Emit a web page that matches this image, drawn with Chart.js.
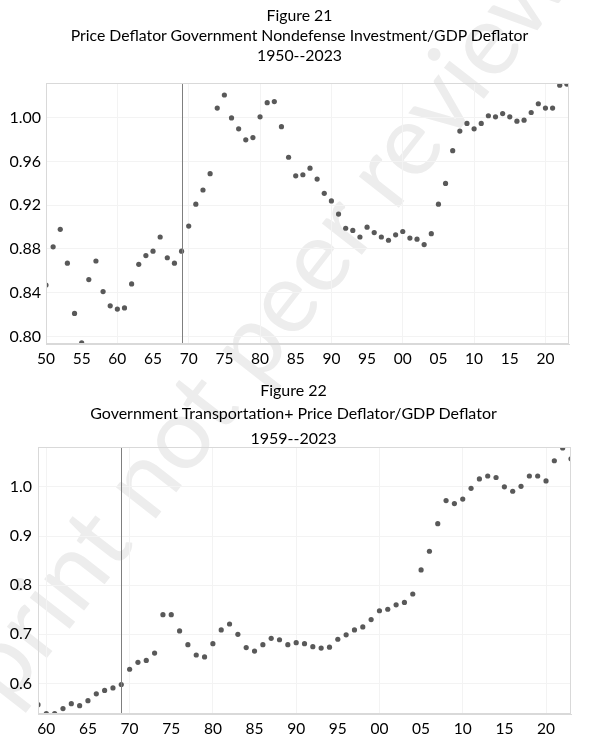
<!DOCTYPE html>
<html>
<head>
<meta charset="utf-8">
<script src="https://cdn.jsdelivr.net/npm/chart.js@4.4.1/dist/chart.umd.min.js"></script>
<style>
  html, body { margin: 0; padding: 0; background: #fff; }
  #page { position: relative; width: 599px; height: 746px; overflow: hidden; font-family: Lato, "Open Sans", sans-serif; color: #000; }
  .t { position: absolute; left: 0; width: 599px; text-align: center; font-size: 15.8px; line-height: 20px; white-space: nowrap; }
  .box { position: absolute; left: 0; width: 599px; }
  #wm { position: absolute; left: -160px; top: 762px; font-size: 100px; color: #ededed; white-space: nowrap; transform-origin: 0 0; transform: rotate(-52deg); font-family: Lato, sans-serif; }
</style>
</head>
<body>
<div id="page">
  <div id="wm">Preprint not peer reviewed</div>
  <div class="box" style="top:0;height:372px;"><canvas id="c1"></canvas></div>
  <div class="box" style="top:372px;height:374px;"><canvas id="c2"></canvas></div>
  <div class="t" style="top:5px;">Figure 21</div>
  <div class="t" style="top:25px;">Price Deflator Government Nondefense Investment/GDP Deflator</div>
  <div class="t" style="top:45px;">1950--2023</div>
  <div class="t" style="top:380px;left:-6px;font-size:16px;">Figure 22</div>
  <div class="t" style="top:403px;left:-6px;font-size:16px;">Government Transportation+ Price Deflator/GDP Deflator</div>
  <div class="t" style="top:428px;left:-6px;font-size:16px;">1959--2023</div>
</div>
<script>
// ---------- Figure 21 data ----------
const years1 = [1950,1951,1952,1953,1954,1955,1956,1957,1958,1959,1960,1961,1962,1963,1964,1965,1966,1967,1968,1969,
  1970,1971,1972,1973,1974,1975,1976,1977,1978,1979,1980,1981,1982,1983,1984,1985,1986,1987,1988,1989,
  1990,1991,1992,1993,1994,1995,1996,1997,1998,1999,2000,2001,2002,2003,2004,2005,2006,2007,2008,2009,
  2010,2011,2012,2013,2014,2015,2016,2017,2018,2019,2020,2021,2022,2023];
const values1 = [0.847,0.882,0.898,0.867,0.821,0.794,0.852,0.869,0.841,0.828,0.825,0.826,0.848,0.866,0.874,0.878,0.891,0.872,0.867,0.878,
  0.901,0.921,0.934,0.949,1.009,1.021,1.000,0.990,0.980,0.982,1.001,1.014,1.015,0.992,0.964,0.947,0.948,0.954,0.944,0.931,
  0.924,0.912,0.899,0.897,0.891,0.900,0.895,0.891,0.888,0.893,0.896,0.890,0.889,0.884,0.894,0.921,0.940,0.970,0.988,0.995,
  0.990,0.995,1.002,1.001,1.004,1.001,0.997,0.998,1.005,1.013,1.009,1.009,1.030,1.031];
const xTicks1 = [1950,1955,1960,1965,1970,1975,1980,1985,1990,1995,2000,2005,2010,2015,2020];
const yTicks1 = [0.80,0.84,0.88,0.92,0.96,1.00];
const xRange1 = [1950, 2023.3];
const yRange1 = [0.793, 1.032];

// ---------- Figure 22 data ----------
const years2 = [1959,1960,1961,1962,1963,1964,1965,1966,1967,1968,1969,
  1970,1971,1972,1973,1974,1975,1976,1977,1978,1979,1980,1981,1982,1983,1984,1985,1986,1987,1988,1989,
  1990,1991,1992,1993,1994,1995,1996,1997,1998,1999,2000,2001,2002,2003,2004,2005,2006,2007,2008,2009,
  2010,2011,2012,2013,2014,2015,2016,2017,2018,2019,2020,2021,2022,2023];
const values2 = [0.557,0.539,0.539,0.549,0.559,0.555,0.565,0.579,0.586,0.591,0.598,
  0.629,0.643,0.647,0.662,0.740,0.740,0.707,0.679,0.658,0.654,0.681,0.709,0.721,0.700,0.673,0.666,0.679,0.692,0.689,0.679,
  0.683,0.681,0.675,0.672,0.674,0.690,0.699,0.709,0.715,0.730,0.748,0.751,0.760,0.765,0.782,0.831,0.869,0.925,0.972,0.966,
  0.975,0.997,1.016,1.022,1.019,1.000,0.991,1.001,1.022,1.022,1.012,1.053,1.079,1.057];
const xTicks2 = [1960,1965,1970,1975,1980,1985,1990,1995,2000,2005,2010,2015,2020];
const yTicks2 = [0.6,0.7,0.8,0.9,1.0];
const xRange2 = [1959, 2023];
const yRange2 = [0.538, 1.081];

const markerYear = 1969;

const FONT = 'Lato, "Open Sans", sans-serif';

const markerPlugin = {
  id: 'marker',
  afterDatasetsDraw(chart, args, opts) {
    const {ctx, chartArea, scales} = chart;
    const x = Math.round(scales.x.getPixelForValue(opts.year)) + 0.5;
    ctx.save();
    ctx.strokeStyle = '#7f7f7f';
    ctx.lineWidth = 1;
    ctx.beginPath();
    ctx.moveTo(x, chartArea.top);
    ctx.lineTo(x, chartArea.bottom);
    ctx.stroke();
    ctx.restore();
  }
};

function makeChart(id, years, values, xTicks, yTicks, xRange, yRange, cfg) {
  const pts = years.map((y, i) => ({x: y, y: values[i]}));
  return new Chart(document.getElementById(id), {
    type: 'scatter',
    data: { datasets: [{ data: pts, backgroundColor: '#595959', borderWidth: 0, pointRadius: 2.6, pointHoverRadius: 2.6, clip: 0 }] },
    plugins: [markerPlugin],
    options: {
      responsive: true,
      maintainAspectRatio: false,
      animation: false,
      events: [],
      layout: { padding: { top: cfg.top, right: cfg.right, left: 0, bottom: 0 } },
      plugins: { legend: { display: false }, tooltip: { enabled: false }, title: { display: false }, marker: { year: markerYear } },
      scales: {
        x: {
          type: 'linear', min: xRange[0], max: xRange[1],
          afterBuildTicks: (s) => { s.ticks = xTicks.map(v => ({value: v})); },
          afterFit: (s) => { s.height = cfg.xh; },
          ticks: { autoSkip: false, maxRotation: 0, padding: cfg.xpad, color: '#000', font: { family: FONT, size: cfg.xfs },
            callback: (v) => String(v % 100).padStart(2, '0') },
          grid: { drawTicks: false, color: (c) => (c.tick && c.tick.value % 10 === 0) ? '#f3f3f3' : 'rgba(0,0,0,0)' },
          border: { display: true, color: '#d9d9d9' }
        },
        y: {
          type: 'linear', min: yRange[0], max: yRange[1],
          afterBuildTicks: (s) => { s.ticks = yTicks.map(v => ({value: v})); },
          afterFit: (s) => { s.width = cfg.yw; },
          ticks: { padding: cfg.ypad, color: '#000', font: { family: FONT, size: cfg.yfs },
            callback: (v) => v.toFixed(cfg.dec) },
          grid: { drawTicks: false, color: '#f3f3f3' },
          border: { display: true, color: '#d9d9d9' }
        }
      }
    },
  });
}

const borderPlugin = {
  id: 'frame',
  afterDraw(chart) {
    const {ctx, chartArea: a} = chart;
    ctx.save();
    ctx.strokeStyle = '#d9d9d9';
    ctx.lineWidth = 1;
    ctx.strokeRect(Math.round(a.left) + 0.5, Math.round(a.top) + 0.5, Math.round(a.right - a.left) - 1, Math.round(a.bottom - a.top) - 1);
    ctx.restore();
  }
};
Chart.register(borderPlugin);

makeChart('c1', years1, values1, xTicks1, yTicks1, xRange1, yRange1,
  { top: 83, right: 30, xh: 28, yw: 46, xpad: 6, ypad: 5, xfs: 15.5, yfs: 16, dec: 2 });
makeChart('c2', years2, values2, xTicks2, yTicks2, xRange2, yRange2,
  { top: 75, right: 28, xh: 32, yw: 38, xpad: 6, ypad: 6, xfs: 15.5, yfs: 16, dec: 1 });
</script>
</body>
</html>
